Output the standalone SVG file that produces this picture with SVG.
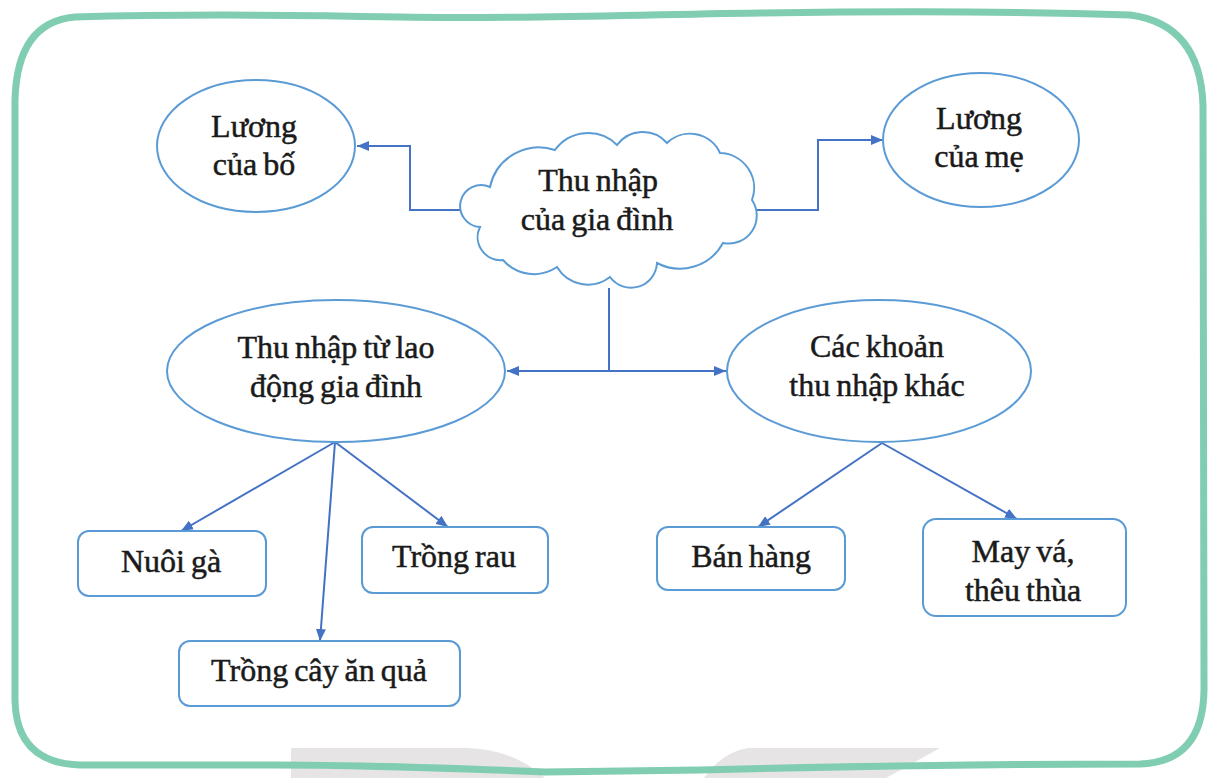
<svg xmlns="http://www.w3.org/2000/svg" width="1213" height="778" viewBox="0 0 1213 778">
<defs>
<style>
.t{font-family:"Liberation Serif","Times New Roman",serif;font-size:32px;fill:#1a1a1a;stroke:#1a1a1a;stroke-width:0.5px;text-anchor:middle;word-spacing:-2px}
.n{fill:#fff;stroke:#5b9bd5;stroke-width:2}
.c{fill:none;stroke:#4472c4;stroke-width:2}
.frame{fill:none;stroke:#80cdb2;stroke-width:7;stroke-linejoin:round}
.wm{fill:#dcd9d9;opacity:0.7}
</style>
<marker id="ah" viewBox="0 0 12 10" refX="12" refY="5" markerWidth="12" markerHeight="10" markerUnits="userSpaceOnUse" orient="auto">
<path d="M0,0 L12,5 L0,10 z" fill="#4472c4"/>
</marker>
</defs>
<rect width="1213" height="778" fill="#fff"/>
<g id="watermark">
<path class="wm" d="M291,748 L468,748 Q515,750 545,778 L291,778 Z"/>
<path class="wm" d="M748,748 L940,748 L886,778 L704,778 Q722,752 748,748 Z"/>
</g>
<path id="frame" class="frame" d="M75,17 C180,14 300,15 400,17 C520,19 620,15 760,13 C900,11 1040,12 1130,15 Q1200,24 1203,105 L1204,690 Q1203,762 1140,764 C1000,764 860,766 700,770 L545,772 C450,768 350,764 250,765 L80,765 Q16,763 15,700 L15,100 Q17,22 75,17 Z"/>
<g id="connectors">
<polyline class="c" points="463,210 410,210 410,146 357,146" marker-end="url(#ah)"/>
<polyline class="c" points="755,210 818,210 818,140 883,140" marker-end="url(#ah)"/>
<line class="c" x1="609" y1="288" x2="609" y2="371"/>
<line class="c" x1="609" y1="371" x2="507" y2="371" marker-end="url(#ah)"/>
<line class="c" x1="609" y1="371" x2="726" y2="371" marker-end="url(#ah)"/>
<line class="c" x1="335" y1="442" x2="181" y2="531" marker-end="url(#ah)"/>
<line class="c" x1="335" y1="442" x2="320" y2="641" marker-end="url(#ah)"/>
<line class="c" x1="335" y1="442" x2="448" y2="527" marker-end="url(#ah)"/>
<line class="c" x1="882" y1="443" x2="758" y2="527" marker-end="url(#ah)"/>
<line class="c" x1="882" y1="443" x2="1017" y2="519" marker-end="url(#ah)"/>
</g>
<g id="cloud">
<path class="n" d="M480,227 A21 21 0 1 1 490,187 A50 50 0 0 1 555,150 A41 41 0 0 1 617,145 A32 32 0 0 1 667,143 A33 33 0 0 1 720,153 A35 35 0 0 1 752,200 A28 28 0 0 1 723,243 A49 49 0 0 1 657,263 A26 26 0 0 1 610,277 A36 36 0 0 1 557,267 A41 41 0 0 1 503,260 A23 23 0 0 1 480,227 Z"/>
<text class="t" x="598" y="191">Thu nhập</text>
<text class="t" x="597" y="230">của gia đình</text>
</g>
<g id="luong-bo">
<ellipse class="n" cx="256" cy="146" rx="99" ry="66"/>
<text class="t" x="254" y="137">Lương</text>
<text class="t" x="254" y="175">của bố</text>
</g>
<g id="luong-me">
<ellipse class="n" cx="981" cy="140" rx="98" ry="67"/>
<text class="t" x="979" y="129">Lương</text>
<text class="t" x="979" y="167">của mẹ</text>
</g>
<g id="lao-dong">
<ellipse class="n" cx="336" cy="371" rx="169" ry="71"/>
<text class="t" x="336" y="358">Thu nhập từ lao</text>
<text class="t" x="336" y="397">động gia đình</text>
</g>
<g id="khac">
<ellipse class="n" cx="879" cy="371" rx="152" ry="71"/>
<text class="t" x="877" y="357">Các khoản</text>
<text class="t" x="877" y="396">thu nhập khác</text>
</g>
<g id="nuoi-ga">
<rect class="n" x="78" y="531" width="188" height="65" rx="11"/>
<text class="t" x="171" y="572">Nuôi gà</text>
</g>
<g id="trong-rau">
<rect class="n" x="362" y="527" width="186" height="66" rx="11"/>
<text class="t" x="454" y="567">Trồng rau</text>
</g>
<g id="trong-cay">
<rect class="n" x="179" y="641" width="281" height="65" rx="11"/>
<text class="t" x="319" y="681">Trồng cây ăn quả</text>
</g>
<g id="ban-hang">
<rect class="n" x="657" y="527" width="188" height="63" rx="11"/>
<text class="t" x="751" y="567">Bán hàng</text>
</g>
<g id="may-va">
<rect class="n" x="923" y="519" width="203" height="97" rx="13"/>
<text class="t" x="1023" y="562">May vá,</text>
<text class="t" x="1023" y="601">thêu thùa</text>
</g>
</svg>
